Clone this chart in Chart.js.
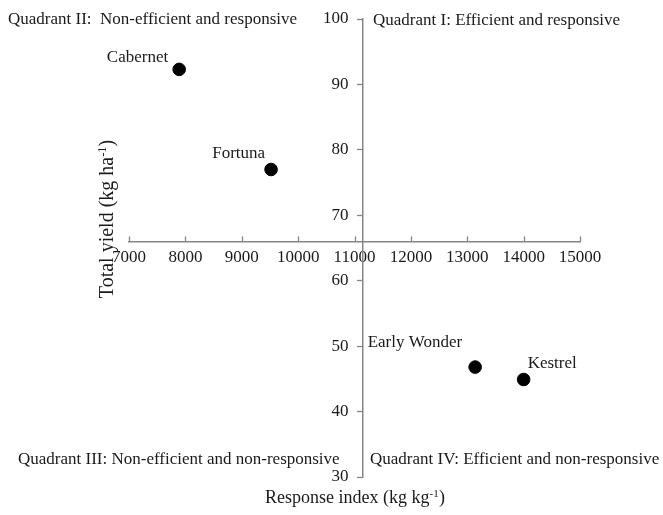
<!DOCTYPE html>
<html>
<head>
<meta charset="utf-8">
<script src="https://cdn.jsdelivr.net/npm/chart.js@4.4.1/dist/chart.umd.min.js"></script>
<style>
  html, body { margin: 0; padding: 0; background: #fff; }
  #wrap { width: 663px; height: 515px; }
</style>
</head>
<body>
<div id="wrap"><canvas id="chart" width="663" height="515"></canvas></div>
<script>
var varieties = ['Cabernet', 'Fortuna', 'Early Wonder', 'Kestrel'];
var responseIndex = [7890, 9520, 13140, 14000];
var totalYield = [92.3, 77.0, 46.8, 44.9];

// where the two axes cross (means of the data)
var crossX = 11140;
var crossY = 66;

var xMin = 7000, xMax = 15000, xStep = 1000;
var yMin = 30, yMax = 100, yStep = 10;

var quadrants = [
	'Quadrant I: Efficient and responsive',
	'Quadrant II:  Non-efficient and responsive',
	'Quadrant III: Non-efficient and non-responsive',
	'Quadrant IV: Efficient and non-responsive'
];

var FONT = '"Liberation Serif", "Times New Roman", serif';
var AXIS_COLOR = '#858585';
var TEXT_COLOR = '#1a1a1a';

// label placement relative to each dot: [dx, dy, align]
var labelPlace = {
	'Cabernet': [-11, -12, 'right'],
	'Fortuna': [-6, -16, 'right'],
	'Early Wonder': [-13, -25, 'right'],
	'Kestrel': [4, -16, 'left']
};

function drawSup(ctx, x, y, parts, size, align) {
	// parts: [[text, isSup], ...]
	var w = 0;
	parts.forEach(function(p) {
		ctx.font = (p[1] ? size * 0.62 : size) + 'px ' + FONT;
		w += ctx.measureText(p[0]).width;
	});
	var cx = align === 'center' ? x - w / 2 : x;
	parts.forEach(function(p) {
		ctx.font = (p[1] ? size * 0.62 : size) + 'px ' + FONT;
		ctx.textAlign = 'left';
		ctx.fillText(p[0], cx, p[1] ? y - size * 0.35 : y);
		cx += ctx.measureText(p[0]).width;
	});
}

var overlay = {
	id: 'overlay',
	afterDraw: function(chart) {
		var ctx = chart.ctx;
		var xs = chart.scales.x, ys = chart.scales.y;
		var axisY = ys.getPixelForValue(crossY);
		var axisX = xs.getPixelForValue(crossX);
		ctx.save();

		// x ticks point up from the horizontal axis
		ctx.strokeStyle = AXIS_COLOR;
		ctx.lineWidth = 1.3;
		xs.ticks.forEach(function(t) {
			var px = Math.round(xs.getPixelForValue(t.value)) + 0.5;
			ctx.beginPath();
			ctx.moveTo(px, axisY);
			ctx.lineTo(px, axisY - 5);
			ctx.stroke();
		});

		ctx.fillStyle = TEXT_COLOR;
		ctx.textBaseline = 'middle';

		// y tick labels, left of the vertical axis
		ctx.font = '17px ' + FONT;
		ctx.textAlign = 'right';
		ys.ticks.forEach(function(t) {
			ctx.fillText(String(t.value), axisX - 14, ys.getPixelForValue(t.value));
		});

		// point labels
		ctx.font = '17px ' + FONT;
		var meta = chart.getDatasetMeta(0);
		meta.data.forEach(function(pt, i) {
			var pl = labelPlace[varieties[i]];
			ctx.textAlign = pl[2];
			ctx.fillText(varieties[i], pt.x + pl[0], pt.y + pl[1]);
		});

		// quadrant captions
		ctx.font = '17px ' + FONT;
		ctx.textAlign = 'left';
		ctx.fillText(quadrants[1], 8, 20);
		ctx.fillText(quadrants[0], 373, 21);
		ctx.fillText(quadrants[2], 18, 460);
		ctx.fillText(quadrants[3], 370, 460);

		// axis titles
		ctx.textBaseline = 'alphabetic';
		drawSup(ctx, 355, 503, [['Response index (kg kg', false], ['-1', true], [')', false]], 18, 'center');

		ctx.translate(113, 219);
		ctx.rotate(-Math.PI / 2);
		drawSup(ctx, 0, 0, [['Total yield (kg ha', false], ['-1', true], [')', false]], 20, 'center');

		ctx.restore();
	}
};

var chart = new Chart(document.getElementById('chart').getContext('2d'), {
	type: 'scatter',
	data: {
		datasets: [{
			data: responseIndex.map(function(v, i) { return { x: v, y: totalYield[i] }; }),
			backgroundColor: '#000',
			borderColor: '#000',
			pointRadius: 6.3,
			pointHoverRadius: 6.3
		}]
	},
	options: {
		responsive: false,
		animation: false,
		layout: { padding: { left: 129, right: 83, top: 19, bottom: 38 } },
		plugins: { legend: { display: false }, tooltip: { enabled: false } },
		scales: {
			x: {
				type: 'linear',
				min: xMin, max: xMax,
				position: { y: crossY },
				afterFit: function(s) { s.height = 0; },
				border: { color: AXIS_COLOR, width: 1.5 },
				grid: { drawOnChartArea: false, drawTicks: false },
				ticks: {
					stepSize: xStep, autoSkip: false, maxRotation: 0, padding: 6,
					color: TEXT_COLOR, font: { family: FONT, size: 17 },
					callback: function(v) { return String(v); }
				}
			},
			y: {
				type: 'linear',
				min: yMin, max: yMax,
				position: { x: crossX },
				afterFit: function(s) { s.width = 0; },
				border: { color: AXIS_COLOR, width: 1.5 },
				grid: { drawOnChartArea: false, drawTicks: true, tickLength: 5, tickColor: AXIS_COLOR, tickWidth: 1.3 },
				ticks: { stepSize: yStep, autoSkip: false, display: false }
			}
		}
	},
	plugins: [overlay]
});
</script>
</body>
</html>
